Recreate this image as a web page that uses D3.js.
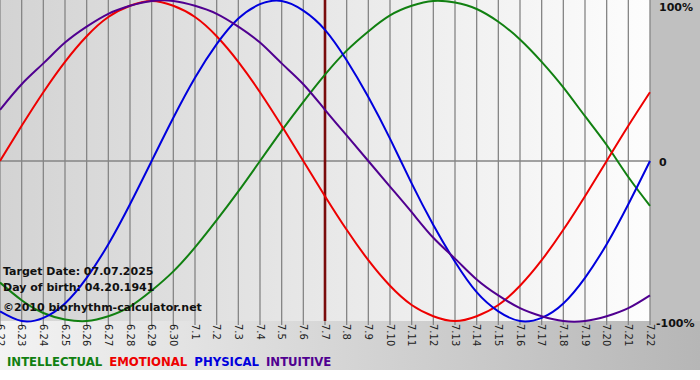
<!DOCTYPE html>
<html><head><meta charset="utf-8">
<script src="https://cdn.jsdelivr.net/npm/d3@7"></script>
<style>html,body{margin:0;padding:0;background:#fff;}svg{display:block;}</style>
</head><body>
<svg id="c" width="700" height="380"></svg>
<script>
const dates = ["6.22","6.23","6.24","6.25","6.26","6.27","6.28","6.29","6.30","7.1","7.2","7.3","7.4","7.5","7.6","7.7","7.8","7.9","7.10","7.11","7.12","7.13","7.14","7.15","7.16","7.17","7.18","7.19","7.20","7.21","7.22"];
const intellectual = [-0.76,-0.87,-0.95,-0.99,-1.00,-0.97,-0.91,-0.81,-0.69,-0.54,-0.37,-0.19,0,0.19,0.37,0.54,0.69,0.81,0.91,0.97,1.00,0.99,0.95,0.87,0.76,0.62,0.46,0.28,0.10,-0.10,-0.28];
const emotional = [0,0.22,0.43,0.62,0.78,0.90,0.97,1.00,0.97,0.90,0.78,0.62,0.43,0.22,0,-0.22,-0.43,-0.62,-0.78,-0.90,-0.97,-1.00,-0.97,-0.90,-0.78,-0.62,-0.43,-0.22,0,0.22,0.43];
const physical = [-0.94,-1.00,-0.98,-0.89,-0.73,-0.52,-0.27,0,0.27,0.52,0.73,0.89,0.98,1.00,0.94,0.82,0.63,0.40,0.14,-0.14,-0.40,-0.63,-0.82,-0.94,-1.00,-0.98,-0.89,-0.73,-0.52,-0.27,0];
const intuitive = [0.32,0.48,0.61,0.74,0.84,0.92,0.97,1.00,1.00,0.97,0.92,0.84,0.74,0.61,0.48,0.32,0.16,0,-0.16,-0.32,-0.48,-0.61,-0.74,-0.84,-0.92,-0.97,-1.00,-1.00,-0.97,-0.92,-0.84];
const seriesNames = ["INTELLECTUAL","EMOTIONAL","PHYSICAL","INTUITIVE"];
const seriesColors = ["#118011","#ee0000","#0000dd","#500090"];
const yTicks = [1,0,-1];
const yTickLabels = ["100%","0","-100%"];
const targetDate = "7.7";
const infoLines = ["Target Date: 07.07.2025","Day of birth: 04.20.1941","©2010 biorhythm-calculator.net"];

const svg = d3.select("#c");
const W = 700, plotW = 650, plotTop = 1, plotBot = 321, bgBottom = 370;
const defs = svg.append("defs");
const g1 = defs.append("linearGradient").attr("id","bg").attr("x1","0").attr("x2","1").attr("y1","0").attr("y2","0");
g1.append("stop").attr("offset","0").attr("stop-color","#f3f3f3");
g1.append("stop").attr("offset","1").attr("stop-color","#b6b6b6");
const g2 = defs.append("linearGradient").attr("id","pg").attr("x1","0").attr("x2","1").attr("y1","0").attr("y2","0");
g2.append("stop").attr("offset","0").attr("stop-color","#d3d3d3");
g2.append("stop").attr("offset","1").attr("stop-color","#fdfdfd");

svg.append("rect").attr("x",0).attr("y",0).attr("width",W).attr("height",bgBottom).attr("fill","url(#bg)");
svg.append("rect").attr("x",plotW).attr("y",0).attr("width",W-plotW).attr("height",plotBot).attr("fill","#c0c0c0");
svg.append("rect").attr("x",0).attr("y",0).attr("width",plotW).attr("height",plotBot).attr("fill","url(#pg)");

const x = d3.scalePoint().domain(dates).range([0, plotW]);
const y = d3.scaleLinear().domain([-1,1]).range([plotBot, plotTop]);

// vertical grid
svg.append("g").selectAll("line").data(dates).join("line")
  .attr("x1",d=>x(d)).attr("x2",d=>x(d)).attr("y1",0).attr("y2",plotBot+4)
  .attr("stroke","#858585").attr("stroke-width",1.3);
// zero line
svg.append("line").attr("x1",0).attr("x2",plotW).attr("y1",y(0)).attr("y2",y(0))
  .attr("stroke","#858585").attr("stroke-width",1.3);

// target line
svg.append("line").attr("x1",x(targetDate)).attr("x2",x(targetDate)).attr("y1",0).attr("y2",plotBot)
  .attr("stroke","#7a0c0c").attr("stroke-width",2.6);

// curves
const allSeries = [intellectual, emotional, physical, intuitive];
const line = d3.line().x((v,i)=>x(dates[i])).y(v=>y(v)).curve(d3.curveNatural);
allSeries.forEach((s,k)=>{
  svg.append("path").attr("d",line(s)).attr("fill","none")
    .attr("stroke",seriesColors[k]).attr("stroke-width",2);
});

// x labels
svg.append("g").selectAll("text").data(dates).join("text")
  .attr("transform",d=>`translate(${x(d)},${plotBot+3}) rotate(90)`)
  .attr("dy","0.35em").attr("text-anchor","start")
  .attr("font-family","DejaVu Sans, Verdana, sans-serif").attr("font-size",10).attr("fill","#222")
  .text(d=>d);

// y labels
svg.append("g").selectAll("text").data(yTicks).join("text")
  .attr("x",(d,i)=> i===2 ? 656 : 659)
  .attr("y",d=> d===1 ? 11 : d===0 ? 166 : 327)
  .attr("font-family","DejaVu Sans, Verdana, sans-serif").attr("font-weight","bold").attr("font-size",11).attr("fill","#111")
  .text((d,i)=>yTickLabels[i]);

// info text
svg.append("g").selectAll("text").data(infoLines).join("text")
  .attr("x",3).attr("y",(d,i)=>[275,291,311][i])
  .attr("font-family","DejaVu Sans, Verdana, sans-serif").attr("font-weight","bold").attr("font-size",11).attr("fill","#111")
  .text(d=>d);

// legend
const leg = svg.append("text").attr("x",7).attr("y",366)
  .attr("font-family","DejaVu Sans Condensed, sans-serif").attr("font-weight","bold").attr("font-size",13);
seriesNames.forEach((n,k)=>{
  leg.append("tspan").attr("fill",seriesColors[k]).attr("dx", k ? 7 : 0).text(n);
});
</script>
</body></html>
